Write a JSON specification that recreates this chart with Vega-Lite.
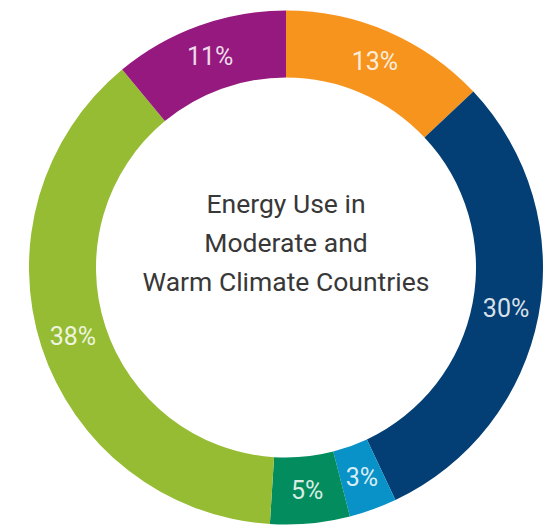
{
  "$schema": "https://vega.github.io/schema/vega-lite/v6.json",
  "width": 543,
  "height": 529,
  "autosize": {"type": "fit", "contains": "padding"},
  "padding": {"left": 29, "right": 0, "top": 6, "bottom": 0},
  "background": "white",
  "config": {"view": {"stroke": null}},
  "data": {
    "values": [
      {"use": "Orange", "share": 13, "label": "13%", "rank": 1},
      {"use": "Navy", "share": 30, "label": "30%", "rank": 2},
      {"use": "Light blue", "share": 3, "label": "3%", "rank": 3},
      {"use": "Teal", "share": 5, "label": "5%", "rank": 4},
      {"use": "Lime", "share": 38, "label": "38%", "rank": 5},
      {"use": "Purple", "share": 11, "label": "11%", "rank": 6}
    ]
  },
  "encoding": {
    "theta": {"field": "share", "type": "quantitative", "stack": true},
    "order": {"field": "rank", "type": "quantitative"},
    "color": {
      "field": "use",
      "type": "nominal",
      "legend": null,
      "scale": {
        "domain": ["Orange", "Navy", "Light blue", "Teal", "Lime", "Purple"],
        "range": ["#F7941E", "#033F74", "#0892C8", "#038C5E", "#95BC33", "#95197E"]
      }
    }
  },
  "layer": [
    {
      "mark": {"type": "arc", "radius": 257, "radius2": 190}
    },
    {
      "mark": {
        "type": "text",
        "radius": 224,
        "font": "Roboto, sans-serif",
        "fontSize": 25,
        "align": "center",
        "baseline": "middle",
        "fill": "#ffffff",
        "fillOpacity": 0.86
      },
      "encoding": {
        "text": {"field": "label", "type": "nominal"},
        "color": {"value": "#ffffff"}
      }
    },
    {
      "data": {
        "values": [
          {"title": ["Energy Use in", "Moderate and", "Warm Climate Countries"]}
        ]
      },
      "mark": {
        "type": "text",
        "font": "Roboto, sans-serif",
        "fontSize": 26.5,
        "lineHeight": 39,
        "align": "center",
        "baseline": "middle",
        "dy": -63,
        "color": "#383838"
      },
      "encoding": {
        "theta": null,
        "order": null,
        "color": null,
        "text": {"field": "title"}
      }
    }
  ]
}
